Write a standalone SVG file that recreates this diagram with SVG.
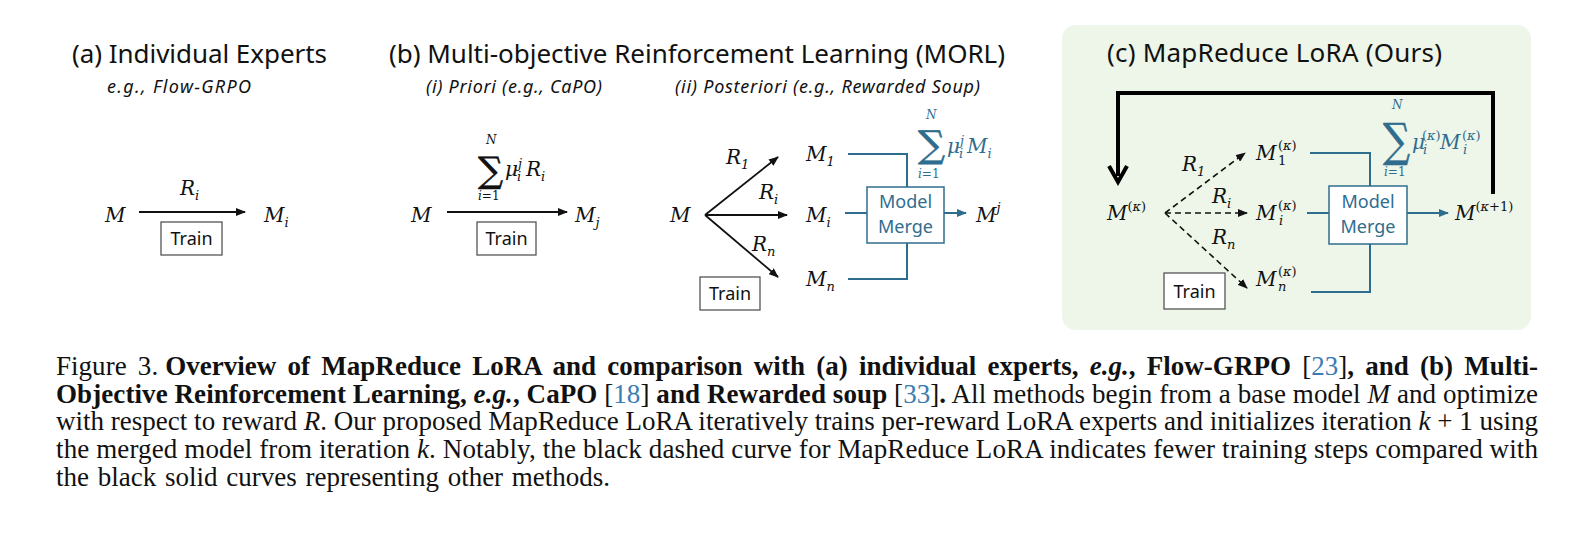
<svg xmlns="http://www.w3.org/2000/svg" width="1592" height="545" viewBox="0 0 1592 545">
<style>
.title{font-family:"Noto Sans","Open Sans",sans-serif;font-size:26px;fill:#111}
.sub{font-family:"Noto Sans","Open Sans",sans-serif;font-style:italic;font-size:18px;fill:#111}
.m{font-family:"DejaVu Serif",serif;font-style:italic;font-size:20px;fill:#111}
.mb{font-family:"DejaVu Serif",serif;font-style:italic;font-size:20px;fill:#2f6d8e}
.s{font-size:13px}
.sm{font-size:12px}
.up{font-style:normal}
.sg{font-family:"DejaVu Serif",serif;font-style:normal;stroke-width:0.6}
.train{font-family:"Noto Sans","Open Sans",sans-serif;font-size:18px;fill:#111;text-anchor:middle}
.tbox{fill:#fff;stroke:#555;stroke-width:1.3}
.mm{fill:#fff;stroke:#2f6d8e;stroke-width:1.5}
.mmt{font-family:"Noto Sans","Open Sans",sans-serif;font-size:18px;fill:#2f6d8e;text-anchor:middle}
.ar{stroke:#111;stroke-width:1.8;fill:none}
.da{stroke:#111;stroke-width:1.6;fill:none;stroke-dasharray:6 4}
.bl{stroke:#2f6d8e;stroke-width:2;fill:none}
.cap{font-family:"Liberation Serif","Times New Roman",serif;font-size:27px;fill:#111}
.b{font-weight:bold}
.i{font-style:italic}
.ref{fill:#3a7db3}
</style>
<defs>
<marker id="ah" markerUnits="userSpaceOnUse" markerWidth="10" markerHeight="8" refX="9" refY="4" orient="auto"><path d="M0,0 L10,4 L0,8 z" fill="#111"/></marker>
<marker id="ahb" markerUnits="userSpaceOnUse" markerWidth="10" markerHeight="8" refX="9" refY="4" orient="auto"><path d="M0,0 L10,4 L0,8 z" fill="#2f6d8e"/></marker>
</defs>

<rect id="panel-c" x="1062" y="25" width="469" height="305" rx="14" fill="#eef5e9"/>

<g id="titles">
<text class="title" x="72" y="63" textLength="255">(a) Individual Experts</text>
<text class="sub" x="107" y="93" textLength="144">e.g., Flow-GRPO</text>
<text class="title" x="389" y="63" textLength="616">(b) Multi-objective Reinforcement Learning (MORL)</text>
<text class="sub" x="426" y="93" textLength="176">(i) Priori (e.g., CaPO)</text>
<text class="sub" x="675" y="93" textLength="305">(ii) Posteriori (e.g., Rewarded Soup)</text>
<text class="title" x="1107" y="62" textLength="335">(c) MapReduce LoRA (Ours)</text>
</g>

<g id="connectors">
<line class="ar" x1="139" y1="212" x2="245" y2="212" marker-end="url(#ah)"/>
<line class="ar" x1="447" y1="212" x2="567" y2="212" marker-end="url(#ah)"/>
<line class="ar" x1="705" y1="215" x2="778" y2="157" marker-end="url(#ah)"/>
<line class="ar" x1="705" y1="215" x2="787" y2="215" marker-end="url(#ah)"/>
<line class="ar" x1="705" y1="215" x2="778" y2="277" marker-end="url(#ah)"/>
<polyline class="bl" points="848,154 907,154 907,187"/>
<line class="bl" x1="845" y1="213" x2="867" y2="213"/>
<polyline class="bl" points="848,279 907,279 907,243"/>
<line class="bl" x1="944" y1="213" x2="966" y2="213" marker-end="url(#ahb)"/>
<line class="da" x1="1165" y1="213" x2="1245" y2="153" marker-end="url(#ah)"/>
<line class="da" x1="1165" y1="213" x2="1247" y2="213" marker-end="url(#ah)"/>
<line class="da" x1="1165" y1="213" x2="1247" y2="288" marker-end="url(#ah)"/>
<polyline class="bl" points="1310,153 1370,153 1370,186"/>
<line class="bl" x1="1307" y1="213" x2="1329" y2="213"/>
<polyline class="bl" points="1311,292 1370,292 1370,244"/>
<line class="bl" x1="1407" y1="213" x2="1448" y2="213" marker-end="url(#ahb)"/>
<polyline points="1493,194 1493,93 1118,93 1118,176" fill="none" stroke="#000" stroke-width="4"/>
<path d="M1109,166 L1118,182 L1127,166" fill="none" stroke="#000" stroke-width="4"/>
</g>

<!-- panel (a) -->
<g id="a-M"><text class="m" x="105" y="222">M</text></g>
<g id="a-R"><text class="m" x="180" y="195">R<tspan class="s" dy="5">i</tspan></text></g>
<g id="a-Mi"><text class="m" x="264" y="222">M<tspan class="s" dy="5">i</tspan></text></g>
<g id="a-train"><rect class="tbox" x="161" y="222" width="61" height="33"/><text class="train" x="191.5" y="245">Train</text></g>

<!-- panel (b)(i) -->
<g id="bi-M"><text class="m" x="411" y="222">M</text></g>
<g id="bi-sum">
<text class="m sm" x="486" y="144">N</text>
<text class="sg" x="478" y="182" style="font-size:35px;fill:#111;stroke:#111" textLength="25" lengthAdjust="spacingAndGlyphs">∑</text>
<text class="m sm" x="478" y="200">i<tspan class="up">=1</tspan></text>
<text class="m" x="505" y="176">μ<tspan class="s" x="517" dy="5">i</tspan><tspan class="s" x="518" dy="-13">j</tspan><tspan x="526" dy="8">R</tspan><tspan class="s" dy="5">i</tspan></text>
</g>
<g id="bi-Mj"><text class="m" x="575" y="222">M<tspan class="s" dy="5">j</tspan></text></g>
<g id="bi-train"><rect class="tbox" x="477" y="222" width="59" height="33"/><text class="train" x="506.5" y="245">Train</text></g>

<!-- panel (b)(ii) -->
<g id="bii-M"><text class="m" x="670" y="222">M</text></g>
<g id="bii-R1"><text class="m" x="726" y="164">R<tspan class="s" dy="5">1</tspan></text></g>
<g id="bii-Ri"><text class="m" x="759" y="199">R<tspan class="s" dy="5">i</tspan></text></g>
<g id="bii-Rn"><text class="m" x="752" y="251">R<tspan class="s" dy="5">n</tspan></text></g>
<g id="bii-M1"><text class="m" x="806" y="161">M<tspan class="s" dy="5">1</tspan></text></g>
<g id="bii-Mi"><text class="m" x="806" y="222">M<tspan class="s" dy="5">i</tspan></text></g>
<g id="bii-Mn"><text class="m" x="806" y="286">M<tspan class="s" dy="5">n</tspan></text></g>
<g id="bii-merge"><rect class="mm" x="867" y="187" width="77" height="56"/><text class="mmt" x="905.5" y="208">Model</text><text class="mmt" x="905.5" y="233">Merge</text></g>
<g id="bii-sum">
<text class="mb sm" x="926" y="119">N</text>
<text class="sg" x="918" y="157" style="font-size:37px;fill:#2f6d8e;stroke:#2f6d8e" textLength="27" lengthAdjust="spacingAndGlyphs">∑</text>
<text class="mb sm" x="918" y="178">i<tspan class="up">=1</tspan></text>
<text class="mb" x="947" y="153">μ<tspan class="s" x="959" dy="5">i</tspan><tspan class="s" x="960" dy="-13">j</tspan><tspan x="967" dy="8">M</tspan><tspan class="s" dy="5">i</tspan></text>
</g>
<g id="bii-Mj"><text class="m" x="976" y="222">M<tspan class="s" dy="-10">j</tspan></text></g>
<g id="bii-train"><rect class="tbox" x="700" y="277" width="60" height="33"/><text class="train" x="730" y="300">Train</text></g>

<!-- panel (c) -->
<g id="c-M"><text class="m" x="1107" y="220">M<tspan class="s up" dy="-9">(</tspan><tspan class="s">κ</tspan><tspan class="s up">)</tspan></text></g>
<g id="c-R1"><text class="m" x="1182" y="171">R<tspan class="s" dy="5">1</tspan></text></g>
<g id="c-Ri"><text class="m" x="1212" y="203">R<tspan class="s" dy="5">i</tspan></text></g>
<g id="c-Rn"><text class="m" x="1212" y="244">R<tspan class="s" dy="5">n</tspan></text></g>
<g id="c-M1"><text class="m" x="1256" y="160">M<tspan class="s up" x="1278" dy="-10">(</tspan><tspan class="s">κ</tspan><tspan class="s up">)</tspan><tspan class="s up" x="1278" dy="15">1</tspan></text></g>
<g id="c-Mi"><text class="m" x="1256" y="220">M<tspan class="s up" x="1278" dy="-10">(</tspan><tspan class="s">κ</tspan><tspan class="s up">)</tspan><tspan class="s" x="1279" dy="15">i</tspan></text></g>
<g id="c-Mn"><text class="m" x="1256" y="286">M<tspan class="s up" x="1278" dy="-10">(</tspan><tspan class="s">κ</tspan><tspan class="s up">)</tspan><tspan class="s" x="1278" dy="15">n</tspan></text></g>
<g id="c-merge"><rect class="mm" x="1329" y="186" width="78" height="58"/><text class="mmt" x="1368" y="208">Model</text><text class="mmt" x="1368" y="233">Merge</text></g>
<g id="c-sum">
<text class="mb sm" x="1392" y="109">N</text>
<text class="sg" x="1383" y="156" style="font-size:46px;fill:#2f6d8e;stroke:#2f6d8e" textLength="27" lengthAdjust="spacingAndGlyphs">∑</text>
<text class="mb sm" x="1384" y="176">i<tspan class="up">=1</tspan></text>
<text class="mb" x="1412" y="149">μ<tspan class="s" x="1423" dy="5">i</tspan><tspan class="s up" x="1422" dy="-14">(</tspan><tspan class="s">κ</tspan><tspan class="s up">)</tspan><tspan x="1440" dy="9">M</tspan><tspan class="s up" x="1462" dy="-9">(</tspan><tspan class="s">κ</tspan><tspan class="s up">)</tspan><tspan class="s" x="1463" dy="14">i</tspan></text>
</g>
<g id="c-Mnext"><text class="m" x="1455" y="220">M<tspan class="s up" dy="-9">(</tspan><tspan class="s">κ</tspan><tspan class="s up">+1)</tspan></text></g>
<g id="c-train"><rect class="tbox" x="1164" y="273" width="61" height="36"/><text class="train" x="1194.5" y="298">Train</text></g>

<!-- caption -->
<g id="caption">
<text class="cap" x="56" y="375" word-spacing="4.4" textLength="1482" lengthAdjust="spacing">Figure 3.<tspan class="b" dx="7">Overview of MapReduce LoRA and comparison with (a) individual experts, </tspan><tspan class="b i">e.g.</tspan><tspan class="b">, Flow-GRPO </tspan>[<tspan class="ref">23</tspan>]<tspan class="b">, and (b) Multi-</tspan></text>
<text class="cap" x="56" y="403" textLength="1482" lengthAdjust="spacing"><tspan class="b">Objective Reinforcement Learning, </tspan><tspan class="b i">e.g.</tspan><tspan class="b">, CaPO </tspan>[<tspan class="ref">18</tspan>]<tspan class="b"> and Rewarded soup </tspan>[<tspan class="ref">33</tspan>]<tspan class="b">.</tspan> All methods begin from a base model <tspan class="i">M</tspan> and optimize</text>
<text class="cap" x="56" y="430" textLength="1482" lengthAdjust="spacing">with respect to reward <tspan class="i">R</tspan>. Our proposed MapReduce LoRA iteratively trains per-reward LoRA experts and initializes iteration <tspan class="i">k</tspan> + 1 using</text>
<text class="cap" x="56" y="458" textLength="1482" lengthAdjust="spacing">the merged model from iteration <tspan class="i">k</tspan>. Notably, the black dashed curve for MapReduce LoRA indicates fewer training steps compared with</text>
<text class="cap" x="56" y="486" word-spacing="2">the black solid curves representing other methods.</text>
</g>
</svg>
